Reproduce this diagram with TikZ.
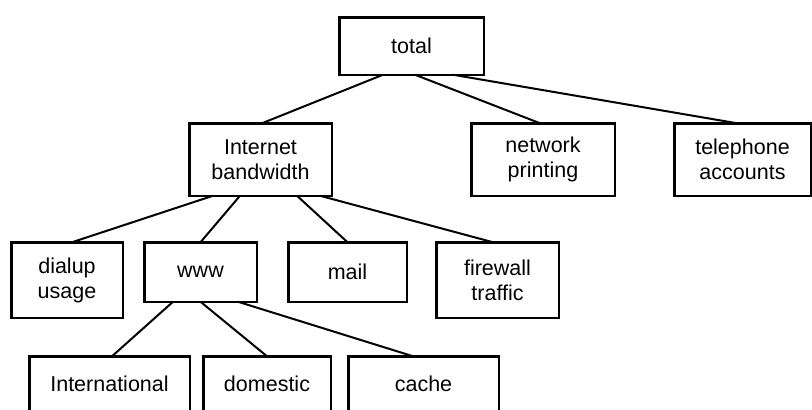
\documentclass[tikz,border=0pt]{standalone}
\usepackage{fontspec}
\setmainfont{Liberation Sans}
\begin{document}
\begin{tikzpicture}[x=1pt,y=-1pt,
  box/.style={draw=black, line width=2.5pt, inner sep=0pt, outer sep=0pt,
    align=center, font=\fontsize{21.5}{25}\selectfont},
  lowbox/.style={box, text height=16pt, text depth=29pt},
  link/.style={draw=black, line width=2pt}]
  \useasboundingbox (0,0) rectangle (812,410);
  \fill[white] (0,0) rectangle (812,410);
  \clip (0,0) rectangle (812,410);

  % level 0
  \node[box, minimum width=144.5pt, minimum height=57.5pt] (total) at (411.5,46) {total};
  % level 1
  \node[box, minimum width=142.5pt, minimum height=72.5pt] (ib)  at (260.5,159.5) {Internet\\bandwidth};
  \node[box, minimum width=143.5pt, minimum height=72.5pt] (net) at (543,159.5) {network\\printing};
  \node[box, minimum width=136.5pt, minimum height=72.5pt] (tel) at (742.5,159.5) {telephone\\accounts};
  % level 2
  \node[box, minimum width=111.5pt, minimum height=75.5pt] (dial) at (67,280) {dialup\\usage};
  \node[box, minimum width=112.5pt, minimum height=59.5pt] (www)  at (200.5,272) {www};
  \node[box, minimum width=118.5pt, minimum height=59.5pt] (mail) at (347.5,272) {mail};
  \node[box, minimum width=122.5pt, minimum height=75.5pt] (fire) at (497.5,280) {firewall\\traffic};
  % level 3
  \node[lowbox, minimum width=160.5pt, minimum height=82.5pt] (intl)  at (109.5,397.5) {International};
  \node[lowbox, minimum width=127.5pt, minimum height=82.5pt] (dom)   at (267,397.5) {domestic};
  \node[lowbox, minimum width=150.5pt, minimum height=82.5pt] (cache) at (423.5,397.5) {cache};

  % connectors
  \draw[link] ([xshift=-28.5pt]total.south) -- ([xshift=1.5pt]ib.north);
  \draw[link] ([xshift=3.5pt]total.south)   -- ([xshift=-3pt]net.north);
  \draw[link] ([xshift=41.5pt]total.south)  -- ([xshift=-5.5pt]tel.north);

  \draw[link] ([xshift=-47.5pt]ib.south) -- ([xshift=5pt]dial.north);
  \draw[link] ([xshift=-20.5pt]ib.south) -- (www.north);
  \draw[link] ([xshift=36.5pt]ib.south)  -- (mail.north);
  \draw[link] ([xshift=59.5pt]ib.south)  -- ([xshift=-4.5pt]fire.north);

  \draw[link] ([xshift=-27.5pt]www.south) -- ([xshift=2.5pt]intl.north);
  \draw[link] (www.south)                 -- (dom.north);
  \draw[link] ([xshift=37.5pt]www.south)  -- ([xshift=-10.5pt]cache.north);
\end{tikzpicture}
\end{document}
